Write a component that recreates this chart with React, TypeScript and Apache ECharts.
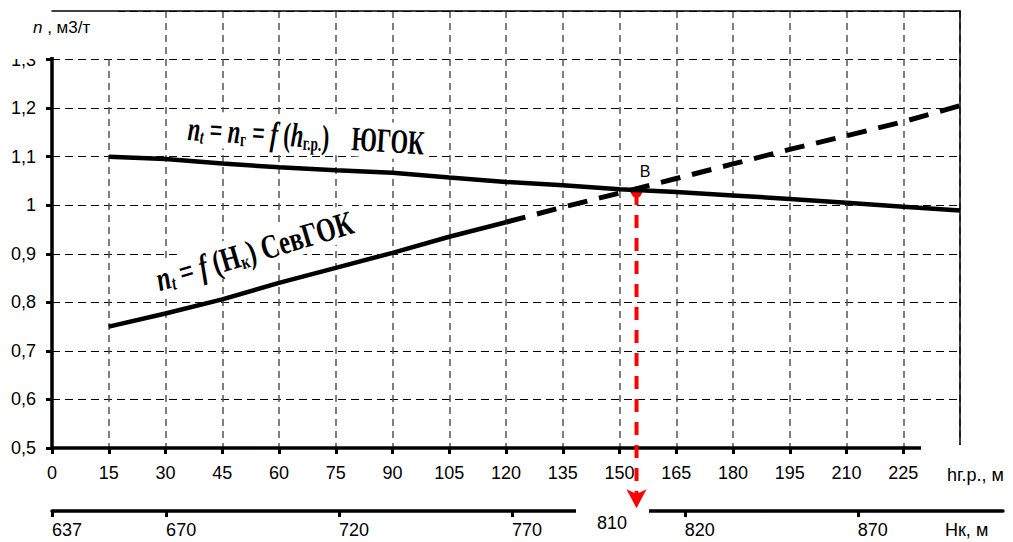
import React, { useEffect, useRef } from "react";
import * as echarts from "echarts";

// ---- data ----
const hrValues = [15, 30, 45, 60, 75, 90, 105, 120, 135, 150, 165, 180, 195, 210, 225, 240];
const yugokN = [1.1, 1.095, 1.086, 1.078, 1.072, 1.067, 1.057, 1.048, 1.041, 1.033, 1.027, 1.02, 1.013, 1.005, 0.997, 0.989];
const sevSolidX = [15, 30, 45, 60, 75, 90, 105, 120];
const sevSolidN = [0.75, 0.777, 0.806, 0.84, 0.871, 0.902, 0.935, 0.965];
const sevDashX = [120, 135, 150, 165, 180, 195, 210, 225, 240];
const sevDashN = [0.965, 0.996, 1.025, 1.055, 1.085, 1.115, 1.143, 1.172, 1.205];
const hkTicks = [637, 670, 720, 770, 820, 870];
const hkRange = [637, 912];
const hrRange = [0, 240];
const nRange = [0.5, 1.4];
const arrowHr = 154.5;
const arrowFromN = 1.027;
const arrowLineEndN = 0.395;
const arrowHeadN = 0.376;

const FONT = "'Liberation Sans', Arial, sans-serif";
const SERIF = "'Liberation Serif', 'Times New Roman', serif";

export default function App() {
  const ref = useRef<HTMLDivElement>(null);
  useEffect(() => {
    if (!ref.current) return;
    const chart = echarts.init(ref.current, null, { renderer: "svg" });
    const fmtN = (v: number) => String(Math.round(v * 10) / 10).replace(".", ",");
    const FS = 34;
    const SFS = 20;
    const italicRich = {
      i: { fontFamily: SERIF, fontSize: FS, fontStyle: "italic", fontWeight: "bold", fill: "#000" },
      r: { fontFamily: SERIF, fontSize: FS, fontWeight: "bold", fill: "#000" },
      sub: { fontFamily: SERIF, fontSize: SFS, fontStyle: "italic", fontWeight: "bold", fill: "#000", padding: [16, 0, 0, 0] },
      subr: { fontFamily: SERIF, fontSize: SFS, fontWeight: "bold", fill: "#000", padding: [16, 0, 0, 0] },
    };
    chart.setOption({
      animation: false,
      grid: [
        { left: 52, right: 53, top: 11, bottom: 94 },
        { left: 52, right: 10, top: 510, height: 1 },
      ],
      xAxis: [
        {
          type: "value", gridIndex: 0, min: hrRange[0], max: hrRange[1], interval: 15,
          axisLine: { onZero: false, lineStyle: { color: "#000", width: 3.5 } },
          axisTick: { length: 6, lineStyle: { color: "#000", width: 3 } },
          axisLabel: {
            color: "#000", fontFamily: FONT, fontSize: 18, margin: 16,
            formatter: (v: number) => (v >= 240 ? "" : String(v)),
          },
          splitLine: { show: true, lineStyle: { color: "#555", type: [7, 5], width: 1.5 } },
        },
        {
          type: "value", gridIndex: 0, position: "top", min: hrRange[0], max: hrRange[1], z: 3,
          axisLine: { show: true, onZero: false, lineStyle: { color: "#000", width: 1.5 } },
          axisTick: { show: false }, axisLabel: { show: false }, splitLine: { show: false },
        },
        {
          type: "value", gridIndex: 1, min: hkRange[0], max: hkRange[1],
          axisLine: { onZero: false, lineStyle: { color: "#000", width: 3.5 } },
          axisTick: { length: 6, lineStyle: { color: "#000", width: 3 }, customValues: hkTicks },
          axisLabel: { color: "#000", fontFamily: FONT, fontSize: 18, margin: 10, align: "left", customValues: hkTicks },
          splitLine: { show: false },
        },
      ],
      yAxis: [
        {
          type: "value", gridIndex: 0, min: nRange[0], max: nRange[1], interval: 0.1,
          axisLine: { show: true, onZero: false, lineStyle: { color: "#000", width: 3.5 } },
          axisTick: { show: true, length: 6, lineStyle: { color: "#000", width: 3 } },
          axisLabel: { color: "#000", fontFamily: FONT, fontSize: 18, margin: 16, formatter: fmtN, showMaxLabel: false },
          splitLine: { show: true, lineStyle: { color: "#000", type: [8, 5], width: 1.2 } },
        },
        {
          type: "value", gridIndex: 0, position: "right", min: nRange[0], max: nRange[1], z: 3,
          axisLine: { show: true, onZero: false, lineStyle: { color: "#000", width: 1.5 } },
          axisTick: { show: false }, axisLabel: { show: false }, splitLine: { show: false },
        },
        { type: "value", gridIndex: 1, show: false, min: 0, max: 1 },
      ],
      series: [
        {
          name: "стрелка", type: "line", z: 3, clip: false, symbol: "none",
          data: [[arrowHr, arrowFromN], [arrowHr, arrowLineEndN]],
          lineStyle: { color: "#ff0000", width: 4, type: [13, 10] },
        },
        {
          name: "точки", type: "scatter", z: 3, clip: false,
          data: [
            { value: [arrowHr, arrowFromN], symbol: "circle", symbolSize: 11 },
            { value: [arrowHr, arrowHeadN], symbol: "arrow", symbolSize: [15, 19], symbolRotate: 180 },
          ],
          itemStyle: { color: "#ff0000", opacity: 1 },
        },
        {
          name: "ЮГОК", type: "line", z: 5, symbol: "none",
          data: hrValues.map((x, i) => [x, yugokN[i]]),
          lineStyle: { color: "#000", width: 4.5 },
        },
        {
          name: "СевГОК", type: "line", z: 5, symbol: "none",
          data: sevSolidX.map((x, i) => [x, sevSolidN[i]]),
          lineStyle: { color: "#000", width: 4.5 },
        },
        {
          name: "СевГОК прогноз", type: "line", z: 5, symbol: "none",
          data: sevDashX.map((x, i) => [x, sevDashN[i]]),
          lineStyle: { color: "#000", width: 5, type: [20, 12] },
        },
      ],
      graphic: [
        { type: "rect", z: 1, shape: { x: 0, y: 0, width: 44, height: 59 }, style: { fill: "#fff" } },
        { type: "rect", z: 1, shape: { x: 44, y: 0, width: 74, height: 57 }, style: { fill: "#fff" } },
        { type: "rect", z: 1, shape: { x: 576, y: 503, width: 73, height: 16 }, style: { fill: "#fff" } },
        { type: "rect", z: 4, shape: { x: 921, y: 445, width: 45, height: 14 }, style: { fill: "#fff" } },
        {
          type: "text", z: 4, x: 33, y: 27,
          style: {
            text: "{i|n} , м3/т", verticalAlign: "middle", fill: "#000",
            font: `17px ${FONT}`,
            rich: { i: { fontFamily: FONT, fontSize: 17, fontStyle: "italic", fill: "#000" } },
          },
        },
        { type: "text", z: 4, x: 612, y: 523, style: { text: "810", align: "center", verticalAlign: "middle", font: `18px ${FONT}`, fill: "#000" } },
        { type: "text", z: 4, x: 947, y: 475, style: { text: "hг.р., м", verticalAlign: "middle", font: `18px ${FONT}`, fill: "#000" } },
        { type: "text", z: 4, x: 945, y: 530, style: { text: "Нк, м", verticalAlign: "middle", font: `18px ${FONT}`, fill: "#000" } },
        { type: "text", z: 4, x: 645, y: 171, style: { text: "В", align: "center", verticalAlign: "middle", font: `16px ${FONT}`, fill: "#000" } },
        {
          type: "text", z: 2, x: 184, y: 128, rotation: -0.06, scaleX: 0.66,
          style: {
            text: "{i|n}{sub|t}{r| = }{i|n}{subr|г}{r| = }{i|f}{r| (}{i|h}{subr|г.р.}{r|)    ЮГОК}",
            verticalAlign: "middle", backgroundColor: "#fff", padding: [0, 6, 0, 6],
            rich: italicRich,
          },
        },
        {
          type: "text", z: 2, x: 152, y: 281, rotation: 0.29, scaleX: 0.73,
          style: {
            text: "{i|n}{sub|t}{r| = }{i|f}{r| (H}{subr|к}{r|) СевГОК}",
            verticalAlign: "middle", backgroundColor: "#fff", padding: [0, 6, 0, 6],
            rich: italicRich,
          },
        },
      ],
    });
    return () => chart.dispose();
  }, []);
  return <div ref={ref} style={{ width: 1013, height: 542, position: "absolute", left: 0, top: 0 }} />;
}
